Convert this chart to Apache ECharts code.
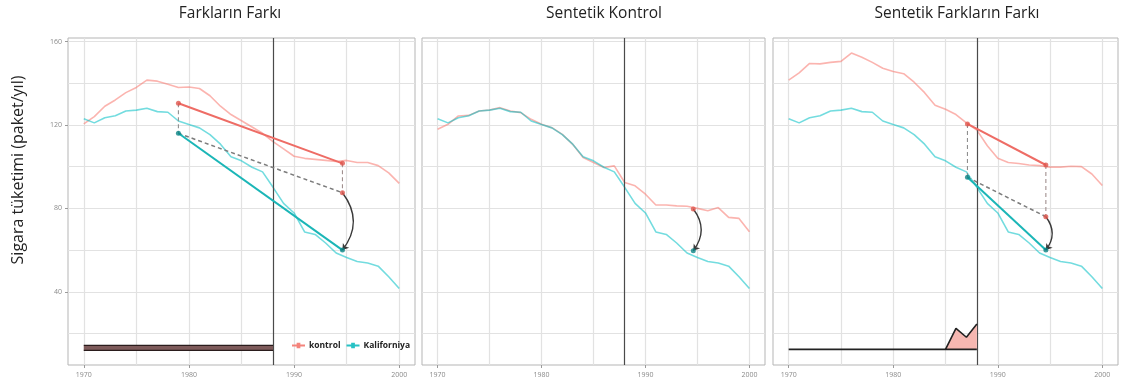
<!DOCTYPE html>
<html>
<head>
<meta charset="utf-8">
<script src="https://cdn.jsdelivr.net/npm/echarts@6/dist/echarts.min.js"></script>
<style>html,body{margin:0;padding:0;background:#fff}#c{width:1122px;height:383px}</style>
</head>
<body>
<div id="c"></div>
<script>
// ---------- data ----------
const years = [1970,1971,1972,1973,1974,1975,1976,1977,1978,1979,1980,1981,1982,1983,1984,1985,1986,1987,1988,1989,1990,1991,1992,1993,1994,1995,1996,1997,1998,1999,2000];
const kaliforniya = [123,121,123.5,124.4,126.7,127.1,128,126.4,126.1,121.9,120.2,118.6,115.4,110.8,104.8,102.8,99.7,97.5,90.1,82.4,77.8,68.7,67.5,63.4,58.6,56.4,54.5,53.8,52.3,47.2,41.6];
const kontrol1 = [120.5,124,129,132,135.5,138,141.5,141,139.5,138,138.2,137.5,134,129,125,122,119,116,112,108.5,105,104,103.5,103,102.5,103,102,102,100.5,97,92];
const sentetik = [117.9,120.3,124.3,124.6,126.7,127.2,128.3,126.7,125.9,122.7,120.3,118.7,115.5,110.7,104.4,102,99.6,100.4,92.4,90.8,86.8,81.6,81.6,81.2,81,80,78.9,80.4,75.7,75.2,68.8];
const kontrol3 = [141.5,145,149.5,149.3,150,150.5,154.5,152.5,150,147.2,145.6,144.6,140.5,135.5,129.5,127.5,125,121,117.5,110,104,102,101.5,100.8,100.5,99.8,99.8,100.2,100,96.5,91];
const gapYears = [1985,1986,1987,1988];
const gapValues = [12.4,22.5,18.2,24.6];
const baseline = 12.4;
const barBand = [11.9, 14.3];
const treatYear = 1988;
// annotations: [xStart, xEnd, controlStart, controlEnd, californiaStart, counterfactualEnd, californiaEnd]
const ann1 = [1979, 1994.6, 130.4, 101.6, 116, 87.5, 60];
const ann2 = [1994.6, 79.7, 59.7]; // x, synthetic, california
const ann3 = [1987.1, 1994.6, 120.5, 100.8, 94.9, 76, 60];
const xLabels = [1970,1980,1990,2000];
const xGrid = [1970,1975,1980,1985,1990,1995,2000];
const yLabels = [40,80,120,160];
const yGrid = [20,40,60,80,100,120,140,160];
const titles = ['Farkların Farkı','Sentetik Kontrol','Sentetik Farkların Farkı'];
const yTitle = 'Sigara tüketimi (paket/yıl)';

// ---------- style ----------
const RED = '#F8766D', TEAL = '#00BFC4';
const RED_T = '#ee6c65', TEAL_T = '#1bb6b7';
const RED_P = '#e0564e', TEAL_P = '#0b8384';
const grids = [
  {left:68, top:38, width:347, height:327},
  {left:422, top:38, width:343, height:327},
  {left:773, top:38, width:345, height:327}
];
const XMIN = 1968.5, XMAX = 2001.5, YMIN = 4.9, YMAX = 161.7;
const FONT = '"Open Sans", "Liberation Sans", sans-serif';

const xAxis = [], yAxis = [];
grids.forEach((g, i) => {
  xAxis.push({type:'value', gridIndex:i, min:XMIN, max:XMAX,
    axisLine:{show:false}, splitLine:{show:false},
    axisTick:{show:true, customValues:xLabels, length:3, lineStyle:{color:'#9a9a9a'}},
    axisLabel:{customValues:xLabels, formatter:v => String(v), fontSize:7, color:'#8a8a8a', margin:6, fontFamily:FONT}});
  xAxis.push({type:'value', gridIndex:i, min:XMIN, max:XMAX,
    axisLine:{show:false}, axisLabel:{show:false},
    axisTick:{show:false, customValues:xGrid},
    splitLine:{show:true, lineStyle:{color:'#e2e2e2', width:1.2}}});
  yAxis.push({type:'value', gridIndex:i, min:YMIN, max:YMAX,
    axisLine:{show:false}, splitLine:{show:false},
    axisTick:{show:i===0, customValues:yLabels, length:3, lineStyle:{color:'#9a9a9a'}},
    axisLabel:{show:i===0, customValues:yLabels, formatter:v => String(v), fontSize:7, color:'#8a8a8a', margin:6, fontFamily:FONT}});
  yAxis.push({type:'value', gridIndex:i, min:YMIN, max:YMAX,
    axisLine:{show:false}, axisLabel:{show:false},
    axisTick:{show:false, customValues:yGrid},
    splitLine:{show:true, lineStyle:{color:'#e2e2e2', width:1.2}}});
});

const zip = (xs, ys) => xs.map((x, k) => [x, ys[k]]);
const series = [];
function thin(i, name, color, vals, z) {
  series.push({type:'line', name, xAxisIndex:2*i, yAxisIndex:2*i, data:zip(years, vals),
    showSymbol:false, silent:true, z:z||2,
    lineStyle:{color, width:1.6, opacity:0.55}, itemStyle:{color}});
}
function vline(i) {
  series.push({type:'line', xAxisIndex:2*i, yAxisIndex:2*i, data:[], silent:true, z:4,
    markLine:{silent:true, symbol:'none', label:{show:false}, animation:false,
      lineStyle:{color:'#4a4a4a', width:1.2, type:'solid'},
      data:[{xAxis:treatYear}]}});
}
function seg(i, pts, color, width, dashed, z) {
  series.push({type:'line', xAxisIndex:2*i, yAxisIndex:2*i, data:pts, showSymbol:false, silent:true, z:z||5,
    lineStyle:{color, width, type: dashed ? [4,3] : 'solid'}});
}
function dots(i, pts, color) {
  series.push({type:'scatter', xAxisIndex:2*i, yAxisIndex:2*i, data:pts, symbolSize:5, silent:true, z:8,
    itemStyle:{color}});
}
function arrow(i, x, yTop, yBot) {
  series.push({type:'lines', coordinateSystem:'cartesian2d', xAxisIndex:2*i, yAxisIndex:2*i,
    silent:true, z:7, symbol:['none','arrow'], symbolSize:6,
    lineStyle:{color:'#3a3a3a', width:1.4, opacity:1, curveness:0.38},
    data:[{coords:[[x, yTop],[x, yBot]]}]});
}
function didAnn(i, a) {
  const [x0, x1, c0, c1, k0, cf, k1] = a;
  seg(i, [[x0,c0],[x0,k0]], '#8f8f8f', 1.1, true);
  seg(i, [[x1,c1],[x1,cf]], '#a08f8e', 1.1, true);
  seg(i, [[x0,k0],[x1,cf]], '#7c7c7c', 1.5, true);
  seg(i, [[x0,c0],[x1,c1]], RED_T, 2);
  seg(i, [[x0,k0],[x1,k1]], TEAL_T, 2);
  dots(i, [[x0,c0],[x1,c1],[x1,cf]], RED_P);
  dots(i, [[x0,k0],[x1,k1]], TEAL_P);
  arrow(i, x1, cf, k1);
}

// panel 1
thin(0, 'kontrol', RED, kontrol1);
thin(0, 'Kaliforniya', TEAL, kaliforniya, 3);
vline(0);
didAnn(0, ann1);
series.push({type:'line', xAxisIndex:0, yAxisIndex:0, data:[[years[0], barBand[0]],[treatYear, barBand[0]]],
  showSymbol:false, silent:true, z:5, lineStyle:{color:'#2a1c1c', width:1.3},
  areaStyle:{color:'#7d5a5a', opacity:1, origin:barBand[1]}});
series.push({type:'line', xAxisIndex:0, yAxisIndex:0, data:[[years[0], barBand[1]],[treatYear, barBand[1]]],
  showSymbol:false, silent:true, z:5, lineStyle:{color:'#2a1c1c', width:1.3}});

// panel 2
thin(1, 'kontrol', RED, sentetik);
thin(1, 'Kaliforniya', TEAL, kaliforniya, 3);
vline(1);
dots(1, [[ann2[0], ann2[1]]], RED_P);
dots(1, [[ann2[0], ann2[2]]], TEAL_P);
arrow(1, ann2[0], ann2[1], ann2[2]);

// panel 3
thin(2, 'kontrol', RED, kontrol3);
thin(2, 'Kaliforniya', TEAL, kaliforniya, 3);
vline(2);
didAnn(2, ann3);
series.push({type:'line', xAxisIndex:4, yAxisIndex:4, data:zip(gapYears, gapValues),
  showSymbol:false, silent:true, z:5, lineStyle:{color:'#222', width:1.6},
  areaStyle:{color:'#f6b7b1', opacity:1, origin:baseline}});
series.push({type:'line', xAxisIndex:4, yAxisIndex:4, data:[[years[0], baseline],[treatYear, baseline]],
  showSymbol:false, silent:true, z:6, lineStyle:{color:'#222', width:1.6}});

const TFONT = '15.5px ' + FONT;
const graphic = [
  {type:'text', x:230, y:14, style:{text:titles[0], font:TFONT, fill:'#222', align:'center', verticalAlign:'middle'}},
  {type:'text', x:604, y:14, style:{text:titles[1], font:TFONT, fill:'#222', align:'center', verticalAlign:'middle'}},
  {type:'text', x:957, y:14, style:{text:titles[2], font:TFONT, fill:'#222', align:'center', verticalAlign:'middle'}},
  {type:'text', x:18, y:170, rotation:Math.PI/2, style:{text:yTitle, font:'16px ' + FONT, fill:'#222', align:'center', verticalAlign:'middle'}}
];

const chart = echarts.init(document.getElementById('c'), null, {renderer:'canvas'});
chart.setOption({
  animation:false,
  backgroundColor:'#fff',
  grid: grids.map(g => Object.assign({show:true, borderColor:'#b5b5b5', borderWidth:1, backgroundColor:'transparent'}, g)),
  xAxis, yAxis, series, graphic,
  legend:{left:287, top:336, itemWidth:13, itemHeight:6, itemGap:6,
    icon:'path://M0,4 L5,4 L5,2 L9,2 L9,4 L14,4 L14,6 L9,6 L9,8 L5,8 L5,6 L0,6 Z',
    textStyle:{fontSize:8.5, fontWeight:'bold', color:'#222', fontFamily:FONT, padding:[0,0,0,-1]},
    selectedMode:false,
    data:[{name:'kontrol', itemStyle:{color:'#f4847c'}}, {name:'Kaliforniya', itemStyle:{color:'#27c2c5'}}]}
});
</script>
</body>
</html>
